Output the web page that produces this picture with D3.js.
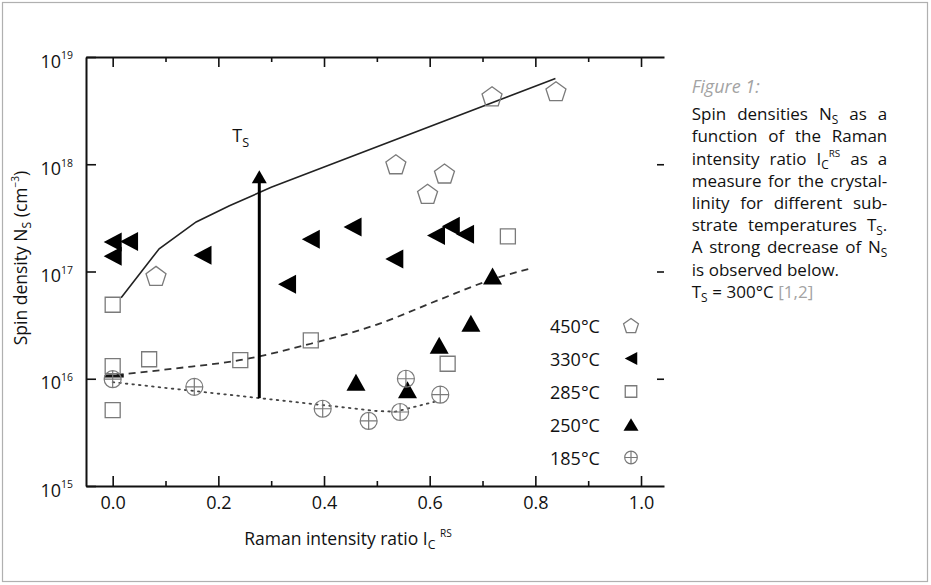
<!DOCTYPE html>
<html>
<head>
<meta charset="utf-8">
<script src="https://cdn.jsdelivr.net/npm/d3@7"></script>
<style>
  body { margin: 0; background: #fff; }
  svg { display: block; font-family: "Open Sans", sans-serif; }
</style>
</head>
<body>
<svg id="chart" width="931" height="585"></svg>
<script>
// ---- data ----
var xMajor = [0, 0.2, 0.4, 0.6, 0.8, 1.0];
var xMinor = [0.1, 0.3, 0.5, 0.7, 0.9];
var yTicks = [1e15, 1e16, 1e17, 1e18, 1e19];
var yRightTicks = [1e16, 1e17, 1e18];

// [Raman ratio, spin density]
var s450 = [[0.082, 9.1e16], [0.536, 1.0e18], [0.596, 5.3e17], [0.628, 8.2e17], [0.718, 4.3e18], [0.839, 4.8e18]];
var s330 = [[0, 1.88e17], [0, 1.39e17], [0.031, 1.9e17], [0.170, 1.42e17], [0.330, 7.6e16], [0.375, 2.0e17],
            [0.454, 2.6e17], [0.533, 1.31e17], [0.612, 2.17e17], [0.640, 2.64e17], [0.667, 2.22e17]];
var s285 = [[0, 4.9e16], [0, 1.31e16], [0, 5.1e15], [0.069, 1.52e16], [0.2415, 1.49e16], [0.375, 2.28e16],
            [0.634, 1.38e16], [0.748, 2.13e17]];
var s250 = [[0.4605, 9.3e15], [0.558, 7.9e15], [0.618, 2.05e16], [0.678, 3.3e16], [0.719, 9.1e16]];
var s185 = [[0, 9.9e15], [0.1545, 8.4e15], [0.3975, 5.25e15], [0.4845, 4.04e15], [0.544, 4.9e15],
            [0.555, 1.0e16], [0.620, 7.1e15]];

// guide lines through the series
var fit450 = [[0.016, 5.7e16], [0.088, 1.63e17], [0.158, 2.9e17], [0.221, 4.1e17], [0.30, 6.1e17], [0.838, 6.3e18]];
var fit285 = [[-0.015, 1.06e16], [0.12, 1.25e16], [0.24, 1.49e16], [0.375, 2.12e16], [0.5, 3.2e16],
              [0.62, 5.5e16], [0.72, 8.5e16], [0.793, 1.07e17]];
var fit185 = [[0, 9.3e15], [0.2775, 6.6e15], [0.5, 5.0e15], [0.535, 4.93e15], [0.615, 6.2e15]];

// arrow "T_S" : x, from, to
var arrowX = 0.2775, arrowFrom = 6.6e15, arrowTo = 8.8e17;

var legendLabels = ['450°C', '330°C', '285°C', '250°C', '185°C'];

var captionLines = [
  'Spin densities N_{S} as a',
  'function of the Raman',
  'intensity ratio I_{C}^{RS} as a',
  'measure for the crystal-',
  'linity for different sub-',
  'strate temperatures T_{S}.',
  'A strong decrease of N_{S}',
  'is observed below.',
  'T_{S} = 300°C ~[1,2]'
];

// ---- setup ----
var svg = d3.select('#chart');
var grey = '#7a7a7a';

svg.append('rect')
  .attr('x', 2.5).attr('y', 2.5).attr('width', 925).attr('height', 579)
  .attr('fill', 'none').attr('stroke', '#b0b0b0').attr('stroke-width', 1.2);

var x = d3.scaleLinear().domain([-0.0505, 1.0435]).range([86, 664]);
var y = d3.scaleLog().domain([1e15, 1e19]).range([486, 57]);

// rich text: _{sub} and ^{sup}
function rich(sel, str, fs) {
  var parts = str.split(/(_\{[^}]*\}|\^\{[^}]*\})/).filter(function(s) { return s.length; });
  var shift = 0;
  parts.forEach(function(p) {
    var t = p, size = fs, target = 0;
    if (p.indexOf('_{') === 0) { t = p.slice(2, -1); size = fs * 0.7; target = fs * 0.24; }
    else if (p.indexOf('^{') === 0) { t = p.slice(2, -1); size = fs * 0.58; target = -fs * 0.45; }
    sel.append('tspan').attr('dy', target - shift).style('font-size', size + 'px').text(t);
    shift = target;
  });
  return sel;
}

// ---- axes ----
var axBottom = svg.append('g').attr('transform', 'translate(0,486)')
  .call(d3.axisBottom(x).tickValues(xMajor).tickSizeInner(-10).tickSizeOuter(0).tickPadding(10)
    .tickFormat(d3.format('.1f')));
svg.append('g').attr('transform', 'translate(0,486)')
  .call(d3.axisBottom(x).tickValues(xMinor).tickSizeInner(-5).tickSizeOuter(0).tickFormat(''))
  .select('.domain').remove();
svg.append('g').attr('transform', 'translate(0,57)')
  .call(d3.axisTop(x).tickValues(xMajor).tickSizeInner(-10).tickSizeOuter(0).tickFormat(''));
svg.append('g').attr('transform', 'translate(0,57)')
  .call(d3.axisTop(x).tickValues(xMinor).tickSizeInner(-5).tickSizeOuter(0).tickFormat(''))
  .select('.domain').remove();

var axLeft = svg.append('g').attr('transform', 'translate(86,0)')
  .call(d3.axisLeft(y).tickValues(yTicks).tickSizeInner(-10).tickSizeOuter(0));
svg.append('g').attr('transform', 'translate(664,0)')
  .call(d3.axisRight(y).tickValues(yRightTicks).tickSizeInner(-7).tickSizeOuter(0).tickFormat(''))
  .select('.domain').remove();

svg.selectAll('.domain').attr('stroke', '#111').attr('stroke-width', 2);
svg.selectAll('.tick line').attr('stroke', '#111').attr('stroke-width', 1.6);

axBottom.selectAll('.tick text')
  .style('font-family', '"Open Sans", sans-serif').style('font-size', '18px').attr('fill', '#111');

axLeft.selectAll('.tick text').each(function(d) {
  var t = d3.select(this);
  t.text(null).attr('dy', null).attr('x', -13).attr('y', 10)
    .attr('text-anchor', 'end').attr('fill', '#111')
    .style('font-family', '"Open Sans", sans-serif');
  rich(t, '10^{' + Math.round(Math.log10(d)) + '}', 18);
});

// axis titles
rich(svg.append('text')
  .attr('transform', 'translate(27,258) rotate(-90)')
  .attr('text-anchor', 'middle').attr('fill', '#111'), 'Spin density N_{S} (cm^{−3})', 17.5);

rich(svg.append('text')
  .attr('x', 348).attr('y', 545)
  .attr('text-anchor', 'middle').attr('fill', '#111'), 'Raman intensity ratio I_{C} ^{RS}', 17.5);

// ---- guide lines ----
var line = d3.line().x(function(d) { return x(d[0]); }).y(function(d) { return y(d[1]); });

svg.append('path').datum(fit450).attr('d', line)
  .attr('fill', 'none').attr('stroke', '#222').attr('stroke-width', 1.6);
svg.append('path').datum(fit285).attr('d', line.curve(d3.curveMonotoneX))
  .attr('fill', 'none').attr('stroke', '#333').attr('stroke-width', 1.8).attr('stroke-dasharray', '7,5');
// heavy first stroke of the dashed guide, as printed
svg.append('line')
  .attr('x1', x(fit285[0][0])).attr('x2', x(fit285[0][0]) + 19)
  .attr('y1', y(fit285[0][1])).attr('y2', y(fit285[0][1]))
  .attr('stroke', '#111').attr('stroke-width', 3);
svg.append('path').datum(fit185).attr('d', line.curve(d3.curveLinear))
  .attr('fill', 'none').attr('stroke', '#444').attr('stroke-width', 1.8)
  .attr('stroke-dasharray', '1.6,5').attr('stroke-linecap', 'round');

// ---- arrow ----
var ax = x(arrowX), tip = y(arrowTo);
svg.append('line')
  .attr('x1', ax).attr('x2', ax).attr('y1', y(arrowFrom)).attr('y2', tip + 10)
  .attr('stroke', '#000').attr('stroke-width', 3);
svg.append('path')
  .attr('d', 'M' + ax + ',' + tip + 'L' + (ax + 7.5) + ',' + (tip + 13) + 'L' + (ax - 7.5) + ',' + (tip + 13) + 'Z')
  .attr('fill', '#000');
rich(svg.append('text').attr('x', ax - 27).attr('y', tip - 28).attr('fill', '#111'), 'T_{S}', 18);

// ---- markers ----
function pentPath(r) {
  var pts = d3.range(5).map(function(k) {
    var a = -Math.PI / 2 + k * 2 * Math.PI / 5;
    return [r * Math.cos(a), r * Math.sin(a) + 0.095 * r];
  });
  return 'M' + pts.join('L') + 'Z';
}
function triLeftPath(w, h) { return 'M' + (-w / 2) + ',0L' + (w / 2) + ',' + (-h / 2) + 'L' + (w / 2) + ',' + (h / 2) + 'Z'; }
function triUpPath(w, h) { return 'M0,' + (-h / 2) + 'L' + (w / 2) + ',' + (h / 2) + 'L' + (-w / 2) + ',' + (h / 2) + 'Z'; }
function squarePath(s) { return 'M' + (-s / 2) + ',' + (-s / 2) + 'h' + s + 'v' + s + 'h' + (-s) + 'Z'; }
function crossCirclePath(r) {
  return 'M' + (-r) + ',0a' + r + ',' + r + ' 0 1,0 ' + (2 * r) + ',0a' + r + ',' + r + ' 0 1,0 ' + (-2 * r) + ',0Z' +
    'M' + (-r) + ',0h' + (2 * r) + 'M0,' + (-r) + 'v' + (2 * r);
}

var markerKinds = [
  { data: s450, big: pentPath(10.5), small: pentPath(7.8), fill: 'none', stroke: grey, sw: 1.3 },
  { data: s330, big: triLeftPath(18, 19), small: triLeftPath(12.5, 13), fill: '#000', stroke: 'none', sw: 0 },
  { data: s285, big: squarePath(15), small: squarePath(11.5), fill: 'none', stroke: grey, sw: 1.3 },
  { data: s250, big: triUpPath(19, 17), small: triUpPath(15, 12.5), fill: '#000', stroke: 'none', sw: 0 },
  { data: s185, big: crossCirclePath(8.5), small: crossCirclePath(6.3), fill: 'none', stroke: grey, sw: 1.2 }
];

markerKinds.forEach(function(k) {
  svg.append('g').selectAll('path').data(k.data).enter().append('path')
    .attr('transform', function(d) { return 'translate(' + x(d[0]) + ',' + y(d[1]) + ')'; })
    .attr('d', k.big)
    .attr('fill', k.fill).attr('stroke', k.stroke).attr('stroke-width', k.sw);
});

// ---- legend ----
var legend = svg.append('g');
legendLabels.forEach(function(lab, i) {
  var cy = 325.5 + i * 33;
  legend.append('text').attr('x', 550).attr('y', cy + 7)
    .attr('fill', '#111').style('font-size', '18px').text(lab);
  var k = markerKinds[i];
  legend.append('path').attr('transform', 'translate(631,' + cy + ')')
    .attr('d', k.small).attr('fill', k.fill).attr('stroke', k.stroke).attr('stroke-width', k.sw);
});

// ---- caption (justified by hand) ----
var capX = 691.7, capW = 195.6, capFs = 17;
var capBase = [120, 142.3, 164.5, 186.5, 208.5, 231, 253, 275.5, 297.5];
var justified = [true, true, true, true, true, true, true, false, false];

svg.append('text').attr('x', capX).attr('y', 93)
  .attr('fill', '#a3a3a3').style('font-style', 'italic').style('font-size', '18px').text('Figure 1:');

captionLines.forEach(function(ln, i) {
  var words = ln.split(' ');
  var nodes = words.map(function(w) {
    var gray = w.charAt(0) === '~';
    var t = svg.append('text').attr('y', capBase[i]).attr('fill', gray ? '#a3a3a3' : '#111')
      .style('font-size', capFs + 'px');
    rich(t, gray ? w.slice(1) : w, capFs);
    return t;
  });
  var widths = nodes.map(function(t) { return t.node().getComputedTextLength(); });
  var total = d3.sum(widths);
  var gap = justified[i] && words.length > 1 ? (capW - total) / (words.length - 1) : capFs * 0.27;
  var cx = capX;
  nodes.forEach(function(t, j) {
    t.attr('x', cx);
    cx += widths[j] + gap;
  });
});
</script>
</body>
</html>
